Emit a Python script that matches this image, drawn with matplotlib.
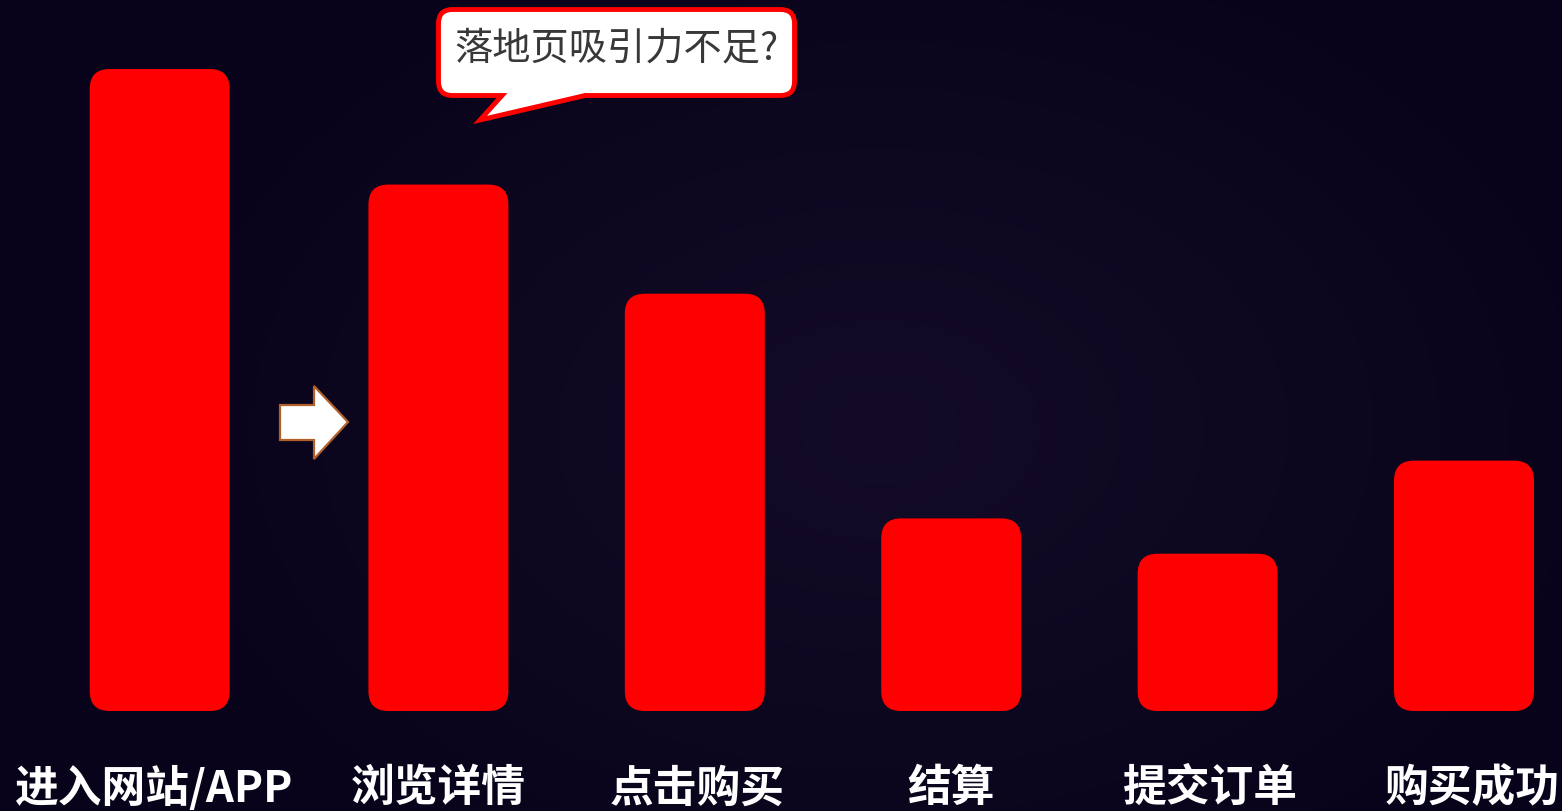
import numpy as np
import matplotlib
matplotlib.use("Agg")
import matplotlib.pyplot as plt
from matplotlib.patches import FancyBboxPatch, PathPatch, Polygon
from matplotlib.path import Path
from matplotlib.transforms import Affine2D

# Funnel stages and relative user volume at each step
stages = ["进入网站/APP", "浏览详情", "点击购买", "结算", "提交订单", "购买成功"]
values = [100, 82, 65, 30, 24.5, 39]
callout_text = "落地页吸引力不足?"

W, H, DPI = 1562, 812, 100
CJK = ["Noto Sans CJK SC", "DejaVu Sans"]

fig = plt.figure(figsize=(W / DPI, H / DPI), dpi=DPI)
fig.patch.set_facecolor("#08031a")

# Soft radial glow behind the chart
bg = fig.add_axes([0, 0, 1, 1], zorder=0)
yy, xx = np.mgrid[0:H, 0:W]
d = np.sqrt(((xx - 880) / 780.0) ** 2 + ((yy - 430) / 540.0) ** 2)
t = np.clip(1 - d, 0, 1) ** 1.1
inner = np.array([20, 12, 39]) / 255.0
outer = np.array([8, 3, 26]) / 255.0
img = outer[None, None, :] + (inner - outer)[None, None, :] * t[..., None]
bg.imshow(img, extent=[0, W, H, 0], aspect="auto", interpolation="bilinear")
bg.set_xlim(0, W)
bg.set_ylim(H, 0)
bg.axis("off")

# Main chart axes
ax = fig.add_axes([0, 0, 1, 1], zorder=1)
ax.patch.set_alpha(0)
px_per_x = 256.4
px_per_y = 6.42
ax.set_xlim(-182 / px_per_x, (W - 182) / px_per_x)
ax.set_ylim(-(H - 712) / px_per_y, 712 / px_per_y)
ax.axis("off")

x = np.arange(len(stages), dtype=float)
x[0] -= 0.087
bar_w = 0.546
bars = ax.bar(x, values, width=bar_w, color="none", edgecolor="none")

radius_px = 20
aspect = px_per_x / px_per_y
for rect in bars:
    bx, by = rect.get_x(), rect.get_y()
    bw, bh = rect.get_width(), rect.get_height()
    ax.add_patch(FancyBboxPatch(
        (bx, by), bw, bh,
        boxstyle=f"round,pad=0,rounding_size={radius_px / px_per_x}",
        mutation_aspect=aspect, facecolor="#ff0000", edgecolor="none", zorder=2))
    rect.remove()

label_dx = [-0.02, 0, 0.01, 0, 0.01, 0.03]
for xi, dx, s in zip(x, label_dx, stages):
    ax.text(xi + dx, -11.9, s, ha="center", va="center", fontsize=31.5,
            fontweight="bold", color="white", family=CJK)

# Pixel-space transform (origin top-left) for annotations
px = Affine2D().scale(1 / W, -1 / H).translate(0, 1) + fig.transFigure

# Speech bubble
x0, x1, y0, y1, r = 438.5, 794.5, 10.5, 96.5, 14
verts = [
    (x0 + r, y0), (x1 - r, y0), (x1, y0), (x1, y0 + r),
    (x1, y1 - r), (x1, y1), (x1 - r, y1),
    (585, y1), (480, 121), (502, y1),
    (x0 + r, y1), (x0, y1), (x0, y1 - r),
    (x0, y0 + r), (x0, y0), (x0 + r, y0), (x0 + r, y0),
]
codes = [
    Path.MOVETO, Path.LINETO, Path.CURVE3, Path.CURVE3,
    Path.LINETO, Path.CURVE3, Path.CURVE3,
    Path.LINETO, Path.LINETO, Path.LINETO,
    Path.LINETO, Path.CURVE3, Path.CURVE3,
    Path.LINETO, Path.CURVE3, Path.CURVE3, Path.CLOSEPOLY,
]
bubble = PathPatch(Path(verts, codes), transform=px, facecolor="white",
                   edgecolor="#ff0000", linewidth=3.5, joinstyle="miter", zorder=5)
fig.patches.append(bubble)
fig.text(616 / W, 1 - 49 / H, callout_text, ha="center", va="center",
         fontsize=27.5, fontweight="medium", color="#383838", family=CJK, zorder=6)

# Block arrow pointing at the second stage
arrow = Polygon([(280, 406), (314, 406), (314, 387), (348, 423),
                 (314, 460), (314, 441), (280, 441)], closed=True,
                transform=px, facecolor="white", edgecolor="#b0602a",
                linewidth=1.6, zorder=5)
fig.patches.append(arrow)

fig.savefig("out.png", dpi=DPI, facecolor=fig.get_facecolor())
